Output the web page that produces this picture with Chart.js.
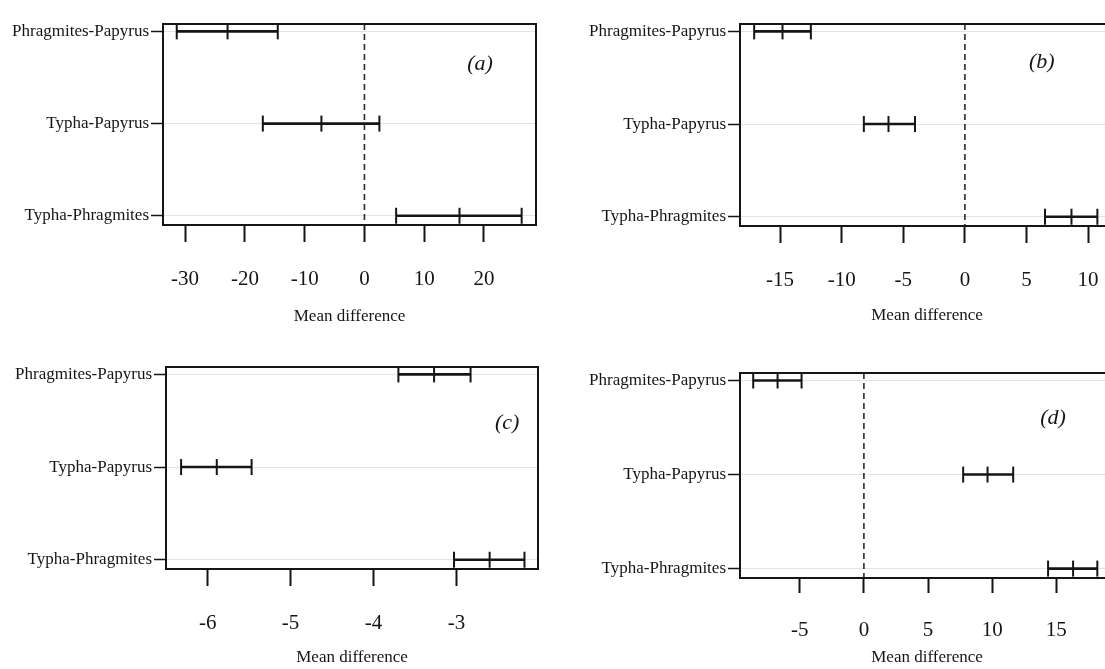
<!DOCTYPE html>
<html>
<head>
<meta charset="utf-8">
<script src="https://cdn.jsdelivr.net/npm/chart.js@4/dist/chart.umd.min.js"></script>
<style>
	html, body { margin: 0; padding: 0; background: #fff; width: 1105px; height: 669px; overflow: hidden; }
	.panel { position: absolute; }
</style>
</head>
<body>
<div class="panel" style="left:0;top:0"><canvas id="chartA" width="552" height="335"></canvas></div>
<div class="panel" style="left:560px;top:0"><canvas id="chartB" width="570" height="335"></canvas></div>
<div class="panel" style="left:0;top:330px"><canvas id="chartC" width="552" height="339"></canvas></div>
<div class="panel" style="left:560px;top:330px"><canvas id="chartD" width="570" height="339"></canvas></div>
<script>
const comparisons = ['Phragmites-Papyrus', 'Typha-Papyrus', 'Typha-Phragmites'];

// (a)
const lowerA = [-31.4, -17.0, 5.3];
const meanA = [-22.9, -7.2, 15.9];
const upperA = [-14.5, 2.5, 26.3];
const ticksA = [-30, -20, -10, 0, 10, 20];

// (b)
const lowerB = [-17.1, -8.2, 6.5];
const meanB = [-14.8, -6.2, 8.65];
const upperB = [-12.5, -4.05, 10.75];
const ticksB = [-15, -10, -5, 0, 5, 10];

// (c)
const lowerC = [-3.70, -6.32, -3.03];
const meanC = [-3.27, -5.89, -2.60];
const upperC = [-2.83, -5.47, -2.18];
const ticksC = [-6, -5, -4, -3];

// (d)
const lowerD = [-8.63, 7.74, 14.36];
const meanD = [-6.73, 9.64, 16.31];
const upperD = [-4.86, 11.64, 18.2];
const ticksD = [-5, 0, 5, 10, 15];

const INK = '#151515';
Chart.defaults.font.family = "'Liberation Serif', 'Times New Roman', serif";
Chart.defaults.color = INK;

// box round the plot area, dashed zero line and the panel letter
const framePlugin = {
	id: 'frame',
	beforeDatasetsDraw(chart) {
		const area = chart.chartArea;
		const x0 = chart.scales.x.getPixelForValue(0);
		if (x0 < area.left || x0 > area.right) return;
		const ctx = chart.ctx;
		ctx.save();
		ctx.strokeStyle = '#2a2a2a';
		ctx.lineWidth = 1.6;
		ctx.setLineDash([6, 4]);
		ctx.beginPath();
		ctx.moveTo(x0, area.top);
		ctx.lineTo(x0, area.bottom);
		ctx.stroke();
		ctx.restore();
	},
	afterDraw(chart, args, opts) {
		const area = chart.chartArea;
		const ctx = chart.ctx;
		ctx.save();
		ctx.strokeStyle = INK;
		ctx.lineWidth = 2;
		ctx.strokeRect(area.left, area.top, area.right - area.left, area.bottom - area.top);
		ctx.font = "italic 22px 'Liberation Serif', serif";
		ctx.fillStyle = INK;
		ctx.textAlign = 'center';
		ctx.textBaseline = 'middle';
		ctx.fillText(opts.letter, area.left + opts.fx * (area.right - area.left), area.top + opts.fy * (area.bottom - area.top));
		ctx.restore();
	},
};

function errorBars(lower, mean, upper) {
	return comparisons.map((name, i) => ({
		label: name,
		data: [
			{ x: lower[i], y: i + 1 },
			{ x: mean[i], y: i + 1 },
			{ x: upper[i], y: i + 1 },
		],
		showLine: true,
		borderColor: INK,
		borderWidth: 2.6,
		pointStyle: 'line',
		pointRotation: 90,
		pointRadius: 8,
		pointBorderWidth: 2,
		pointBorderColor: INK,
		pointBackgroundColor: INK,
	}));
}

function createPanel(id, lower, mean, upper, ticks, p) {
	const ctx = document.getElementById(id).getContext('2d');
	return new Chart(ctx, {
		type: 'scatter',
		data: { datasets: errorBars(lower, mean, upper) },
		options: {
			responsive: false,
			animation: false,
			layout: { padding: p.padding },
			plugins: {
				legend: { display: false },
				tooltip: { enabled: false },
				frame: { letter: p.letter, fx: p.fx, fy: p.fy },
			},
			scales: {
				x: {
					type: 'linear',
					min: p.xMin,
					max: p.xMax,
					afterBuildTicks: (scale) => { scale.ticks = ticks.map((v) => ({ value: v })); },
					afterFit: (scale) => { scale.height = p.xHeight; },
					border: { display: true, color: INK, width: 2 },
					grid: { drawOnChartArea: false, tickLength: p.tickLen, tickColor: INK, tickWidth: 2 },
					ticks: {
						padding: 25,
						maxRotation: 0,
						font: { size: 21 },
						callback: (v) => String(v),
					},
					title: {
						display: true,
						text: 'Mean difference',
						padding: 0,
						font: { size: 17 },
					},
				},
				y: {
					type: 'linear',
					reverse: true,
					min: 0.92,
					max: 3.1,
					afterBuildTicks: (scale) => { scale.ticks = comparisons.map((c, i) => ({ value: i + 1 })); },
					afterFit: (scale) => { scale.width = p.yWidth; },
					border: { display: true, color: INK, width: 2 },
					grid: { color: '#e3e3e3', lineWidth: 1, tickLength: 12, tickColor: INK, tickWidth: 1.5 },
					ticks: {
						padding: 2,
						font: { size: 17 },
						callback: (v) => comparisons[v - 1],
					},
				},
			},
		},
		plugins: [framePlugin],
	});
}

createPanel('chartA', lowerA, meanA, upperA, ticksA, {
	letter: '(a)', fx: 0.85, fy: 0.2, xMin: -33.7, xMax: 28.7,
	padding: { top: 24, right: 16, bottom: 8, left: 0 }, yWidth: 163, xHeight: 102, tickLen: 17,
});
createPanel('chartB', lowerB, meanB, upperB, ticksB, {
	letter: '(b)', fx: 0.807, fy: 0.19, xMin: -18.25, xMax: 12.1,
	padding: { top: 24, right: 16, bottom: 9, left: 0 }, yWidth: 180, xHeight: 100, tickLen: 17,
});
createPanel('chartC', lowerC, meanC, upperC, ticksC, {
	letter: '(c)', fx: 0.917, fy: 0.28, xMin: -6.502, xMax: -2.017,
	padding: { top: 37, right: 14, bottom: 1, left: 0 }, yWidth: 166, xHeight: 99, tickLen: 17,
});
createPanel('chartD', lowerD, meanD, upperD, ticksD, {
	letter: '(d)', fx: 0.837, fy: 0.22, xMin: -9.66, xMax: 19.5,
	padding: { top: 43, right: 16, bottom: 1, left: 0 }, yWidth: 180, xHeight: 90, tickLen: 15,
});
</script>
</body>
</html>
